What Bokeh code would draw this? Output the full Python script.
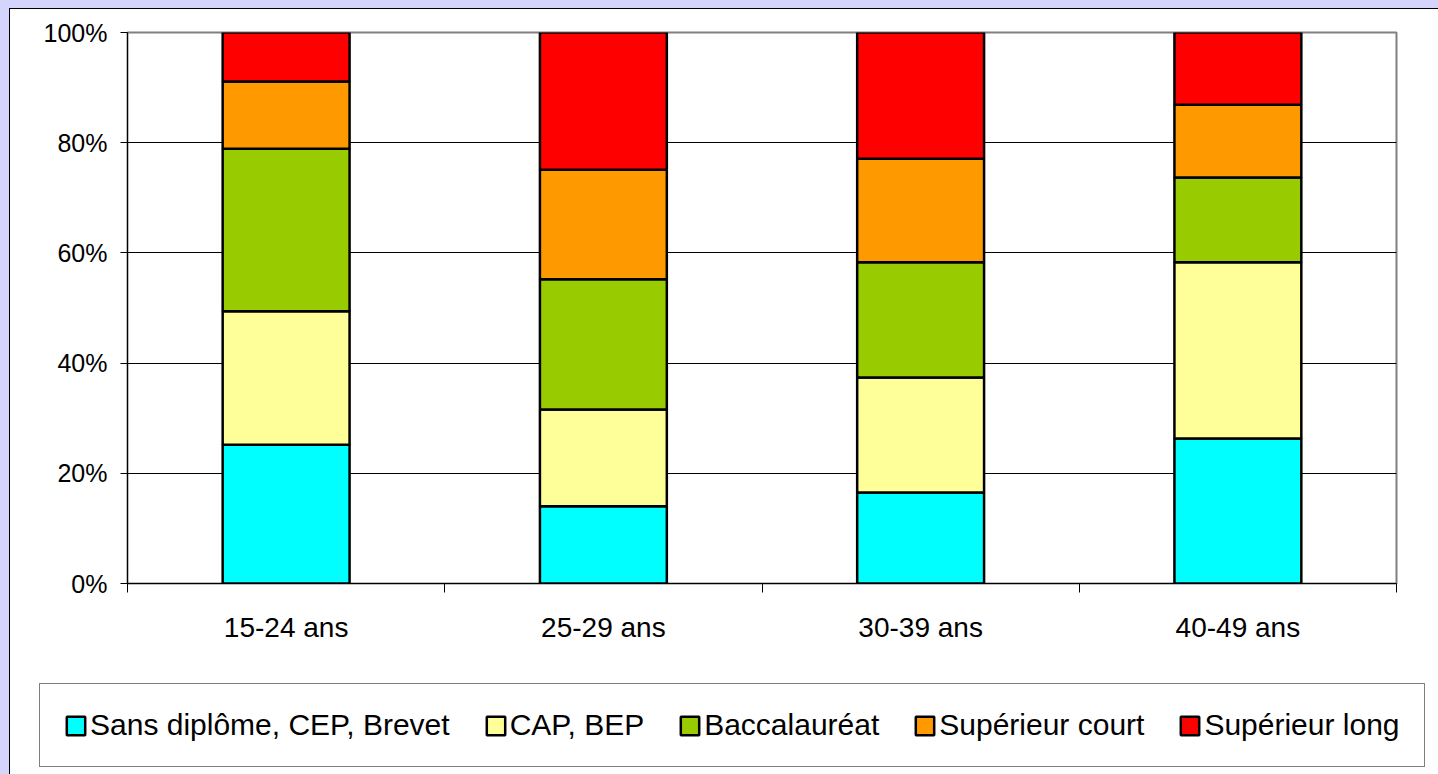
from bokeh.plotting import figure
from bokeh.models import ColumnDataSource, Range1d, FixedTicker
from bokeh.layouts import column
from bokeh.embed import file_html
from bokeh.resources import INLINE

categories = ["15-24 ans", "25-29 ans", "30-39 ans", "40-49 ans"]
series = ["Sans diplôme, CEP, Brevet", "CAP, BEP", "Baccalauréat", "Supérieur court", "Supérieur long"]
sans_diplome = [25.2, 14.0, 16.5, 26.3]
cap_bep = [24.2, 17.6, 20.9, 32.0]
baccalaureat = [29.5, 23.6, 20.9, 15.4]
superieur_court = [12.2, 19.9, 18.8, 13.2]
superieur_long = [8.9, 24.9, 22.9, 13.1]
colors = ["#00FFFF", "#FFFF99", "#99CC00", "#FF9900", "#FF0000"]
y_ticks = [0, 20, 40, 60, 80, 100]

xs = [i + 0.5 for i in range(len(categories))]
keys = ["s0", "s1", "s2", "s3", "s4"]
source = ColumnDataSource(dict(x=xs, s0=sans_diplome, s1=cap_bep, s2=baccalaureat,
                               s3=superieur_court, s4=superieur_long))

W = 1428
H1 = 650
H2 = 765 - H1

p = figure(width=W, height=H1, output_backend="svg", toolbar_location=None,
           x_range=Range1d(0, len(categories)), y_range=Range1d(0, 100),
           min_border_left=117, min_border_top=23, min_border_right=42, min_border_bottom=76)
p.background_fill_color = "white"
p.border_fill_color = "white"
p.outline_line_color = "#808080"
p.outline_line_width = 2

p.vbar_stack(keys, x="x", width=0.4, source=source, fill_color=colors,
             line_color="black", line_width=2.5)

# axes
p.xgrid.visible = False
p.ygrid.ticker = FixedTicker(ticks=y_ticks)
p.ygrid.grid_line_color = "#000000"
p.ygrid.grid_line_width = 1

ya = p.yaxis[0]
ya.ticker = FixedTicker(ticks=y_ticks)
ya.major_label_overrides = {t: f"{t}%" for t in y_ticks}
ya.major_label_text_font = "Liberation Sans"
ya.major_label_text_font_size = "25px"
ya.major_label_text_color = "black"
ya.major_tick_in = 0
ya.major_tick_out = 7
ya.minor_tick_line_color = None
ya.major_label_standoff = 13
ya.axis_line_color = "#000000"
ya.axis_line_width = 1
ya.major_tick_line_color = "#000000"

xa = p.xaxis[0]
xa.ticker = FixedTicker(ticks=xs, minor_ticks=list(range(len(categories) + 1)))
xa.major_label_overrides = {x: c for x, c in zip(xs, categories)}
xa.major_label_text_font = "Liberation Sans"
xa.major_label_text_font_size = "28px"
xa.major_label_text_color = "black"
xa.major_tick_in = 0
xa.major_tick_out = 0
xa.minor_tick_in = 0
xa.minor_tick_out = 9
xa.minor_tick_line_color = "#000000"
xa.major_label_standoff = 19
xa.axis_line_color = "#000000"

# legend panel (separate figure below the chart; its bars are hidden, only the legend shows)
q = figure(width=W, height=H2, output_backend="svg", toolbar_location=None,
           x_range=Range1d(0, len(categories)), y_range=Range1d(0, 100), min_border=0,
           x_axis_type=None, y_axis_type=None)
try:
    q.frame_align = False
except Exception:
    pass
q.outline_line_color = None
q.background_fill_color = "white"
q.border_fill_color = "white"
q.grid.visible = False
legend_renderers = q.vbar_stack(keys, x="x", width=0.4, source=source, fill_color=colors,
                                line_color="black", line_width=2.5, legend_label=series)
for r in legend_renderers:
    r.visible = False

lg = q.legend[0]
lg.click_policy = "none"
lg.orientation = "horizontal"
lg.location = (29, 7)
lg.label_text_font = "Liberation Sans"
lg.label_text_font_size = "30px"
lg.label_text_color = "black"
lg.glyph_width = 23
lg.glyph_height = 23
lg.label_standoff = 3
lg.spacing = 34
lg.padding = 24
lg.margin = 0
lg.border_line_color = "#000000"
lg.border_line_width = 1
lg.background_fill_color = "white"
lg.background_fill_alpha = 1

layout = column(p, q, spacing=0)
layout.styles = {"border-left": "1px solid #000000", "border-top": "1px solid #000000",
                 "background": "white"}

html = file_html(layout, INLINE)
style = ("<style>html, body { background:#D4D4FC !important; margin:0 !important; } "
         "body { padding:8px 0 0 9px !important; }</style>")
html = html.replace("</head>", style + "</head>", 1)
open("out.html", "w").write(html)
